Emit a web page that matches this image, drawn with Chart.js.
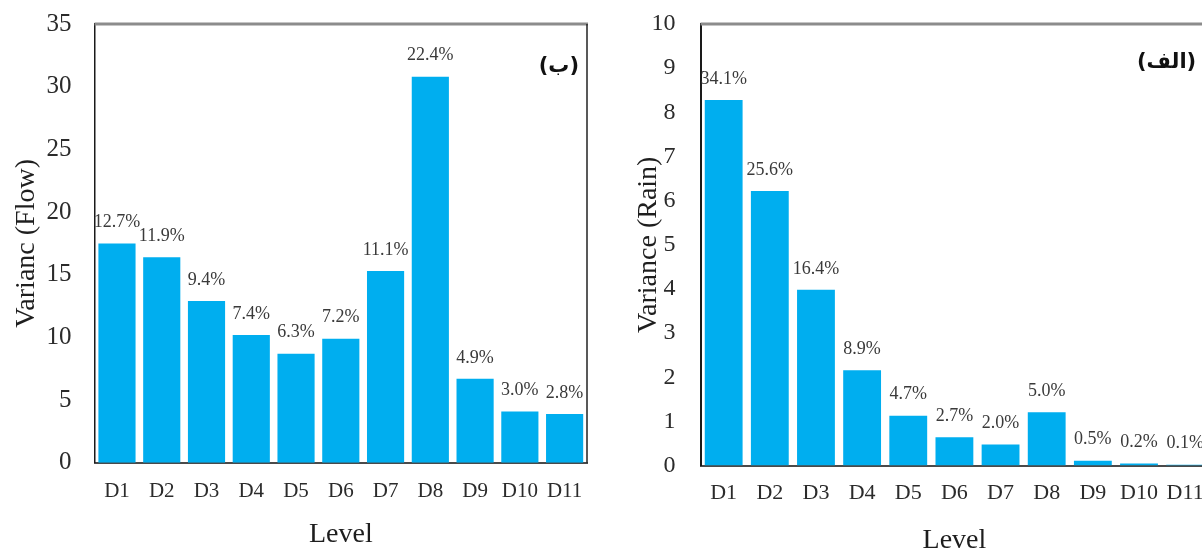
<!DOCTYPE html>
<html>
<head>
<meta charset="utf-8">
<script src="https://cdn.jsdelivr.net/npm/chart.js@4.4.1/dist/chart.umd.min.js"></script>
<style>
  html, body { margin: 0; padding: 0; background: #ffffff; overflow: hidden; width: 1202px; height: 553px; }
  .panel { position: absolute; top: 0; height: 553px; }
  #flowPanel { left: 0; width: 600px; }
  #rainPanel { left: 618px; width: 600px; }
</style>
</head>
<body>
<div class="panel" id="flowPanel"><canvas id="flowChart" width="600" height="553"></canvas></div>
<div class="panel" id="rainPanel"><canvas id="rainChart" width="600" height="553"></canvas></div>
<script>
// Decomposition levels shared by both panels
const levels = ['D1', 'D2', 'D3', 'D4', 'D5', 'D6', 'D7', 'D8', 'D9', 'D10', 'D11'];

// Panel (ب): variance of flow per level and its share of the total
const flowVariance = [17.5, 16.4, 12.9, 10.2, 8.7, 9.9, 15.3, 30.8, 6.7, 4.1, 3.9];
const flowShare = ['12.7%', '11.9%', '9.4%', '7.4%', '6.3%', '7.2%', '11.1%', '22.4%', '4.9%', '3.0%', '2.8%'];
const flowTicks = [0, 5, 10, 15, 20, 25, 30, 35];

// Panel (الف): variance of rain per level and its share of the total
const rainVariance = [8.28, 6.22, 3.98, 2.16, 1.13, 0.64, 0.48, 1.21, 0.11, 0.05, 0.02];
const rainShare = ['34.1%', '25.6%', '16.4%', '8.9%', '4.7%', '2.7%', '2.0%', '5.0%', '0.5%', '0.2%', '0.1%'];
const rainTicks = [0, 1, 2, 3, 4, 5, 6, 7, 8, 9, 10];

const SERIF = '"Liberation Serif", "Times New Roman", serif';
const BAR_BLUE = '#00AEEF';

// Writes the percentage share above each bar
const shareLabels = {
  id: 'shareLabels',
  afterDatasetsDraw(chart, args, opts) {
    const ctx = chart.ctx;
    const meta = chart.getDatasetMeta(0);
    ctx.save();
    ctx.font = opts.font;
    ctx.fillStyle = opts.color;
    ctx.textAlign = 'center';
    ctx.textBaseline = 'middle';
    meta.data.forEach((bar, i) => {
      ctx.fillText(opts.labels[i], bar.x, bar.y - opts.gap);
    });
    ctx.restore();
  }
};

// Closes the plot box with a top rule and a right rule
const plotFrame = {
  id: 'plotFrame',
  afterDatasetsDraw(chart, args, opts) {
    const { ctx, chartArea: a } = chart;
    ctx.save();
    ctx.strokeStyle = opts.topColor;
    ctx.lineWidth = opts.topWidth;
    ctx.beginPath();
    ctx.moveTo(a.left, a.top);
    ctx.lineTo(a.right + 1, a.top);
    ctx.stroke();
    ctx.strokeStyle = opts.sideColor;
    ctx.lineWidth = opts.sideWidth;
    ctx.beginPath();
    ctx.moveTo(a.right, a.top);
    ctx.lineTo(a.right, a.bottom);
    ctx.stroke();
    ctx.restore();
  }
};

// Panel letter in the upper right corner of the plot
const panelTag = {
  id: 'panelTag',
  afterDraw(chart, args, opts) {
    const { ctx, chartArea: a } = chart;
    ctx.save();
    ctx.direction = 'rtl';
    ctx.font = opts.font;
    ctx.fillStyle = '#111111';
    ctx.textAlign = 'right';
    ctx.textBaseline = 'middle';
    ctx.fillText(opts.text, a.right - opts.dx, a.top + opts.dy);
    ctx.restore();
  }
};

function buildChart(canvasId, values, shares, tickValues, yTitle, cfg) {
  return new Chart(document.getElementById(canvasId), {
    type: 'bar',
    data: {
      labels: levels,
      datasets: [{
        data: values,
        backgroundColor: BAR_BLUE,
        borderWidth: 0,
        categoryPercentage: 1.0,
        barPercentage: cfg.barPct
      }]
    },
    plugins: [shareLabels, plotFrame, panelTag],
    options: {
      responsive: false,
      animation: false,
      events: [],
      layout: { padding: cfg.padding },
      plugins: {
        legend: { display: false },
        tooltip: { enabled: false },
        shareLabels: { labels: shares, font: '18px ' + SERIF, color: '#3a3a3a', gap: 21 },
        plotFrame: { topColor: '#8c8c8c', topWidth: 3, sideColor: '#222222', sideWidth: 1.5 },
        panelTag: cfg.tag
      },
      scales: {
        x: {
          grid: { display: false, drawTicks: false },
          border: { display: true, color: '#4a4a4a', width: 2 },
          ticks: { color: '#2b2b2b', font: { family: SERIF, size: cfg.xTickSize }, padding: cfg.xTickPad, maxRotation: 0, autoSkip: false },
          title: { display: true, text: 'Level', color: '#1e1e1e', font: { family: SERIF, size: 28, lineHeight: 1.0 }, padding: cfg.xTitlePad }
        },
        y: {
          min: tickValues[0],
          max: tickValues[tickValues.length - 1],
          afterBuildTicks(scale) { scale.ticks = tickValues.map(v => ({ value: v })); },
          // the end tick labels may overhang the plot box; the layout padding keeps them on the canvas
          afterFit(scale) { scale.paddingTop = 0; scale.paddingBottom = 0; },
          grid: { display: false, drawTicks: false },
          border: { display: true, color: '#1a1a1a', width: cfg.yBorder },
          ticks: { color: '#2b2b2b', font: { family: SERIF, size: cfg.yTickSize }, padding: cfg.yTickPad },
          title: { display: true, text: yTitle, color: '#1e1e1e', font: { family: SERIF, size: 28, lineHeight: 1.2 }, padding: cfg.yTitlePad }
        }
      }
    }
  });
}

buildChart('flowChart', flowVariance, flowShare, flowTicks, 'Varianc (Flow)', {
  barPct: 0.83,
  padding: { left: 10, top: 24, right: 13, bottom: 4 },
  xTickSize: 21, xTickPad: 16, xTitlePad: { top: 1, bottom: 0 },
  yTickSize: 25, yTickPad: 23, yTitlePad: { top: 0, bottom: -20 },
  yBorder: 1.5,
  tag: { text: '(ب)', font: 'bold 21px "DejaVu Sans", sans-serif', dx: 8, dy: 43 }
});

buildChart('rainChart', rainVariance, rainShare, rainTicks, 'Variance (Rain)', {
  barPct: 0.82,
  padding: { left: 14, top: 24, right: 7, bottom: -2 },
  xTickSize: 22, xTickPad: 14, xTitlePad: { top: 7, bottom: 0 },
  yTickSize: 24, yTickPad: 25, yTitlePad: { top: 0, bottom: -39 },
  yBorder: 2,
  tag: { text: '(الف)', font: 'bold 21px "DejaVu Sans", sans-serif', dx: 12, dy: 39 }
});
</script>
</body>
</html>
